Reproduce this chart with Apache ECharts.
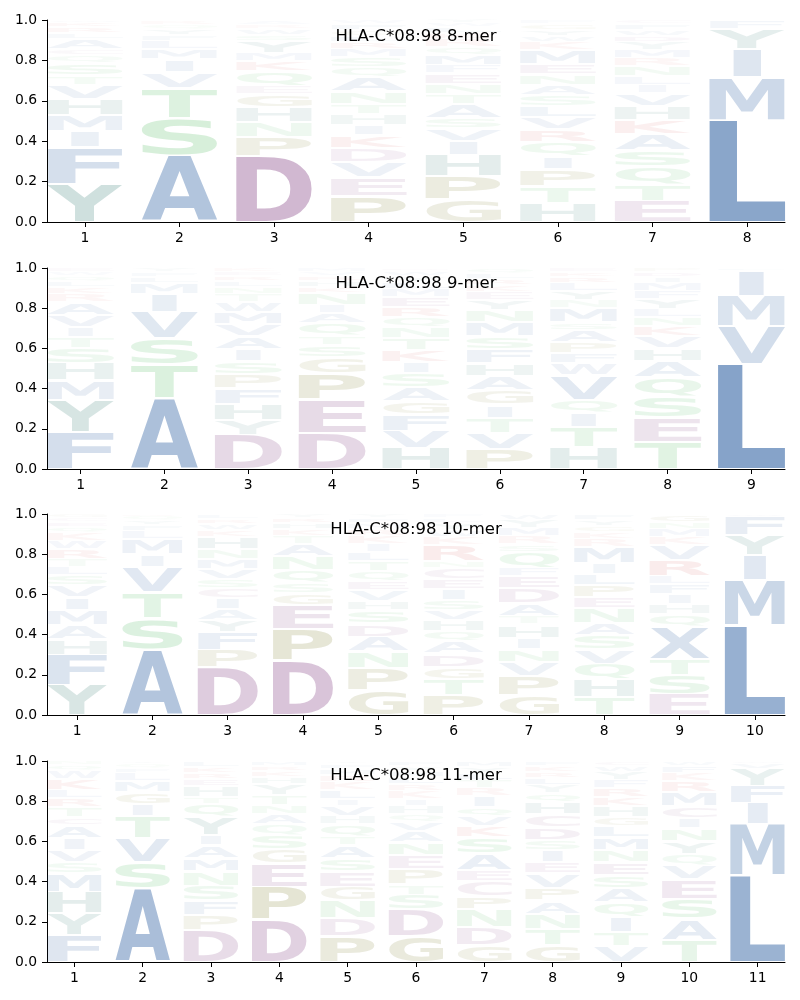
<!DOCTYPE html>
<html>
<head>
<meta charset="utf-8">
<script src="https://cdn.jsdelivr.net/npm/echarts@6/dist/echarts.min.js"></script>
<style>html,body{margin:0;padding:0;background:#fff}#chart{width:800px;height:1000px}</style>
</head>
<body>
<div id="chart"></div>
<script>
// ---------------- data ----------------
const allele = 'HLA-C*08:98';
const peptideLengths = [8, 9, 10, 11];
const yTickValues = [0, 0.2, 0.4, 0.6, 0.8, 1.0];

// each position: letters from bottom to top with their frequencies
const mer8 = [
  [['Y',.19],['F',.18],['I',.08],['M',.08],['H',.08],['V',.07],['T',.045],['S',.06],['Q',.04],['C',.03],['A',.05],['L',.03],['R',.03],['K',.025],['W',.01]],
  [['A',.33],['S',.185],['T',.15],['V',.075],['I',.065],['M',.05],['L',.04],['F',.03],['Y',.03],['Q',.02],['R',.02]],
  [['D',.325],['P',.095],['N',.075],['H',.075],['G',.065],['E',.04],['Q',.07],['K',.05],['M',.04],['Y',.06],['S',.03],['W',.03],['R',.02],['A',.02]],
  [['P',.13],['E',.09],['V',.075],['D',.07],['K',.065],['I',.05],['H',.055],['T',.05],['N',.06],['A',.07],['Q',.05],['S',.05],['M',.04],['R',.035],['L',.03],['G',.03],['F',.03],['W',.02]],
  [['G',.11],['P',.115],['H',.105],['I',.07],['V',.065],['S',.05],['A',.07],['T',.05],['N',.05],['E',.05],['F',.04],['M',.05],['Q',.04],['R',.04],['K',.03],['L',.03],['W',.02],['Y',.015]],
  [['H',.095],['T',.08],['P',.085],['I',.065],['Q',.07],['R',.065],['V',.06],['L',.055],['S',.055],['A',.05],['N',.05],['E',.05],['M',.07],['K',.04],['W',.03],['Y',.03],['G',.03],['F',.02]],
  [['E',.105],['T',.08],['Q',.09],['S',.08],['A',.08],['K',.07],['H',.07],['V',.065],['I',.04],['L',.04],['N',.05],['R',.04],['M',.04],['Y',.04],['D',.03],['W',.03],['F',.03],['C',.02]],
  [['L',.505],['M',.21],['I',.14],['Y',.10],['F',.045]]
];
const mer9 = [
  [['F',.185],['Y',.16],['M',.095],['H',.085],['S',.075],['T',.055],['I',.05],['V',.06],['A',.065],['R',.04],['K',.035],['L',.03],['Q',.025],['W',.02],['E',.02]],
  [['A',.355],['T',.165],['S',.13],['V',.13],['I',.09],['M',.055],['L',.03],['F',.025],['Y',.02]],
  [['D',.17],['Y',.075],['H',.08],['F',.075],['P',.07],['S',.065],['I',.06],['A',.065],['V',.06],['M',.06],['W',.05],['T',.04],['N',.035],['L',.03],['R',.025],['E',.02],['K',.02]],
  [['D',.18],['E',.165],['P',.13],['G',.08],['S',.06],['T',.045],['Q',.065],['A',.05],['I',.04],['N',.06],['K',.03],['H',.03],['R',.025],['V',.02],['M',.02]],
  [['H',.105],['V',.085],['F',.08],['G',.065],['A',.07],['S',.07],['I',.055],['K',.06],['T',.06],['N',.055],['Q',.05],['R',.05],['E',.05],['M',.04],['L',.035],['Y',.03],['W',.025],['D',.015]],
  [['P',.10],['V',.08],['T',.075],['I',.065],['G',.07],['A',.07],['H',.065],['F',.07],['S',.065],['M',.07],['N',.06],['Y',.05],['E',.04],['K',.035],['R',.03],['L',.03],['Q',.025]],
  [['H',.11],['T',.10],['I',.07],['Q',.065],['V',.12],['W',.06],['F',.05],['P',.055],['A',.06],['S',.04],['M',.07],['N',.04],['Y',.045],['L',.04],['R',.03],['K',.025],['E',.02]],
  [['T',.135],['E',.12],['S',.105],['Q',.095],['A',.08],['H',.065],['V',.06],['K',.05],['N',.045],['L',.04],['Y',.05],['F',.04],['M',.04],['I',.03],['D',.025],['P',.02]],
  [['L',.52],['V',.19],['M',.15],['I',.125],['F',.015]]
];
const mer10 = [
  [['Y',.15],['F',.15],['H',.075],['A',.07],['M',.075],['I',.065],['V',.06],['S',.05],['L',.04],['T',.04],['R',.05],['W',.04],['K',.04],['Q',.03],['E',.025],['C',.02],['G',.02]],
  [['A',.325],['S',.155],['T',.13],['V',.125],['I',.065],['M',.075],['L',.04],['F',.03],['Y',.025],['Q',.02],['R',.01]],
  [['D',.235],['P',.09],['F',.085],['Y',.06],['A',.055],['I',.055],['C',.05],['S',.045],['V',.05],['M',.05],['N',.05],['H',.06],['K',.035],['W',.03],['R',.025],['L',.025]],
  [['D',.27],['P',.155],['E',.12],['G',.06],['S',.05],['Q',.065],['N',.07],['A',.06],['T',.04],['K',.035],['H',.03],['R',.025],['Y',.02]],
  [['G',.125],['P',.11],['N',.08],['A',.075],['D',.065],['S',.065],['H',.045],['V',.055],['E',.045],['Q',.05],['T',.05],['L',.045],['I',.04],['K',.04],['R',.035],['M',.03],['F',.025],['Y',.02]],
  [['P',.10],['T',.08],['G',.06],['D',.065],['A',.06],['Q',.05],['H',.055],['V',.05],['S',.05],['I',.055],['E',.05],['C',.055],['N',.035],['R',.08],['K',.04],['W',.035],['Y',.035],['L',.025],['F',.02]],
  [['G',.10],['P',.095],['V',.07],['N',.065],['I',.055],['H',.065],['T',.04],['A',.065],['D',.075],['E',.06],['F',.04],['Q',.08],['S',.04],['R',.04],['M',.04],['Y',.04],['W',.03]],
  [['T',.09],['H',.085],['Q',.08],['V',.07],['S',.07],['A',.06],['N',.075],['E',.055],['P',.06],['L',.055],['I',.055],['M',.08],['R',.04],['K',.035],['G',.03],['Y',.03],['F',.03]],
  [['E',.105],['S',.095],['T',.08],['X',.16],['Q',.06],['H',.05],['I',.05],['F',.05],['L',.04],['R',.08],['V',.075],['K',.04],['M',.04],['N',.035],['G',.04]],
  [['L',.445],['M',.225],['I',.125],['Y',.10],['F',.095],['W',.01]]
];
const mer11 = [
  [['F',.135],['Y',.11],['H',.105],['M',.09],['S',.055],['V',.06],['I',.06],['A',.065],['C',.04],['T',.05],['R',.045],['L',.04],['K',.055],['W',.04],['Q',.03],['N',.02]],
  [['A',.365],['S',.13],['V',.12],['T',.11],['I',.06],['G',.06],['M',.055],['L',.04],['F',.025],['Q',.02],['Y',.015]],
  [['D',.16],['P',.075],['F',.07],['S',.075],['N',.07],['M',.065],['A',.065],['I',.05],['Y',.09],['Q',.065],['T',.035],['H',.055],['E',.035],['R',.03],['K',.03],['L',.03]],
  [['D',.21],['P',.165],['E',.115],['G',.07],['S',.07],['Q',.055],['A',.05],['N',.045],['T',.05],['Y',.055],['H',.035],['K',.03],['R',.025],['M',.025]],
  [['P',.13],['D',.09],['N',.085],['G',.07],['E',.075],['S',.065],['A',.065],['T',.045],['Q',.06],['H',.04],['V',.05],['I',.035],['L',.045],['K',.04],['R',.035],['M',.03],['F',.025],['Y',.015]],
  [['G',.13],['D',.13],['S',.075],['T',.05],['P',.075],['E',.07],['N',.065],['A',.055],['V',.045],['Q',.04],['H',.04],['I',.035],['K',.04],['R',.035],['L',.035],['M',.03],['Y',.025],['F',.025]],
  [['G',.085],['D',.09],['N',.085],['P',.065],['C',.075],['E',.055],['A',.085],['S',.08],['K',.055],['V',.05],['Q',.045],['I',.055],['R',.04],['T',.04],['L',.035],['Y',.03],['M',.03]],
  [['G',.085],['T',.08],['N',.075],['A',.065],['P',.065],['V',.07],['E',.055],['I',.06],['S',.05],['D',.065],['C',.065],['H',.06],['Q',.045],['Y',.04],['L',.035],['R',.03],['K',.03],['F',.025]],
  [['V',.08],['T',.07],['I',.075],['Q',.07],['A',.07],['S',.065],['E',.065],['N',.06],['M',.065],['L',.055],['G',.045],['H',.055],['K',.045],['R',.045],['F',.04],['Y',.04],['W',.03],['C',.025]],
  [['T',.11],['A',.105],['S',.10],['E',.095],['V',.07],['Q',.055],['Y',.065],['N',.065],['I',.05],['C',.06],['M',.07],['R',.055],['K',.04],['F',.035],['W',.025]],
  [['L',.43],['M',.255],['I',.105],['F',.085],['Y',.085],['V',.03],['W',.01]]
];
const panelsData = [mer8, mer9, mer10, mer11];

// ---------------- styles ----------------
const BLUE = [25, 80, 152], TEAL = [10, 95, 85], GREEN = [40, 170, 60],
      PURPLE = [115, 40, 115], OLIVE = [100, 100, 0], RED = [200, 40, 40], CPUR = [125, 55, 115];
const BASE = {
  A: BLUE, V: BLUE, L: BLUE, I: BLUE, M: BLUE, F: BLUE, W: BLUE, X: BLUE,
  Y: TEAL, H: TEAL,
  S: GREEN, T: GREEN, N: GREEN, Q: GREEN,
  D: PURPLE, E: PURPLE, C: CPUR,
  P: OLIVE, G: OLIVE,
  K: RED, R: RED
};
function letterColor(ch, v) {
  const c = BASE[ch] || [120, 120, 120];
  const a = Math.min(1, 0.005 + v);
  return 'rgba(' + c[0] + ',' + c[1] + ',' + c[2] + ',' + a.toFixed(3) + ')';
}

const GLYPH_FONT = 'bold 100px "DejaVu Sans"';
const mctx = document.createElement('canvas').getContext('2d');
mctx.font = GLYPH_FONT;
mctx.textBaseline = 'middle';
mctx.textAlign = 'left';
const metricCache = {};
function glyph(ch) {
  if (!metricCache[ch]) {
    const m = mctx.measureText(ch);
    metricCache[ch] = { l: m.actualBoundingBoxLeft, r: m.actualBoundingBoxRight,
                        a: m.actualBoundingBoxAscent, d: m.actualBoundingBoxDescent };
  }
  return metricCache[ch];
}
const COL_W = 0.8, VSEP = 0.011;

function renderLetter(params, api, items) {
  const d = items[params.dataIndex];
  const sep = Math.min(VSEP, d.v * 0.4);
  const g0 = d.y0 + sep / 2, g1 = d.y1 - sep / 2;
  const tl = api.coord([d.x - COL_W / 2, g1]);
  const br = api.coord([d.x + COL_W / 2, g0]);
  const boxW = br[0] - tl[0], boxH = br[1] - tl[1];
  if (boxH <= 0.2) return null;
  const m = glyph(d.ch), mE = glyph('E');
  const inkW = m.l + m.r, inkH = m.a + m.d;
  let sx = boxW / inkW;
  const sxMax = boxW / (mE.l + mE.r);
  let left = tl[0];
  if (sx > sxMax) { sx = sxMax; left = tl[0] + (boxW - inkW * sx) / 2; }
  const sy = boxH / inkH;
  const fill = letterColor(d.ch, d.v);
  return {
    type: 'text',
    x: left + sx * m.l,
    y: tl[1] + sy * m.a,
    scaleX: sx, scaleY: sy,
    silent: true,
    style: { text: d.ch, font: GLYPH_FONT, fill: fill, align: 'left', verticalAlign: 'middle',
             textAlign: 'left', textVerticalAlign: 'middle' }
  };
}

// ---------------- layout ----------------
const gridTops = [20, 268, 514, 761];
const gridHeights = [202, 201, 201, 201];
const titleCenters = [36, 283, 529, 775];
const AXIS_FONT = 'DejaVu Sans';

const grids = [], xAxes = [], yAxes = [], series = [], titles = [];
panelsData.forEach(function (stacks, gi) {
  const n = stacks.length;
  const items = [];
  stacks.forEach(function (stack, pi) {
    let cum = 0;
    stack.forEach(function (p) {
      items.push({ x: pi + 1, y0: cum, y1: cum + p[1], ch: p[0], v: p[1] });
      cum += p[1];
    });
  });
  const posTicks = stacks.map(function (_, i) { return i + 1; });
  grids.push({ left: 47, right: 15, top: gridTops[gi], height: gridHeights[gi] });
  xAxes.push({
    gridIndex: gi, type: 'value', min: 0.6, max: n + 0.4,
    axisLine: { show: true, onZero: false, lineStyle: { color: '#000', width: 1 } },
    axisTick: { show: true, customValues: posTicks, length: 5, lineStyle: { color: '#000', width: 1 } },
    axisLabel: { show: true, customValues: posTicks, margin: 9, color: '#000', fontSize: 13.9, fontFamily: AXIS_FONT },
    splitLine: { show: false }
  });
  yAxes.push({
    gridIndex: gi, type: 'value', min: 0, max: 1, interval: 0.2,
    axisLine: { show: true, onZero: false, lineStyle: { color: '#000', width: 1 } },
    axisTick: { show: true, length: 5, lineStyle: { color: '#000', width: 1 } },
    axisLabel: { show: true, margin: 10, color: '#000', fontSize: 13.9, fontFamily: AXIS_FONT,
                 formatter: function (v) { return v.toFixed(1); } },
    splitLine: { show: false }
  });
  series.push({
    type: 'custom', xAxisIndex: gi, yAxisIndex: gi, silent: true,
    data: items.map(function (d) { return [d.x, d.y0, d.y1]; }),
    encode: { x: 0, y: [1, 2] },
    renderItem: function (params, api) { return renderLetter(params, api, items); }
  });
  titles.push({
    text: allele + ' ' + peptideLengths[gi] + '-mer',
    left: 416, top: titleCenters[gi] + 1, textAlign: 'center', textVerticalAlign: 'middle', padding: 0,
    textStyle: { color: '#000', fontSize: 16.5, fontWeight: 'normal', fontFamily: AXIS_FONT }
  });
});

const chart = echarts.init(document.getElementById('chart'), null, { renderer: 'canvas' });
chart.setOption({
  animation: false,
  backgroundColor: '#fff',
  title: titles,
  grid: grids,
  xAxis: xAxes,
  yAxis: yAxes,
  series: series
});
</script>
</body>
</html>
